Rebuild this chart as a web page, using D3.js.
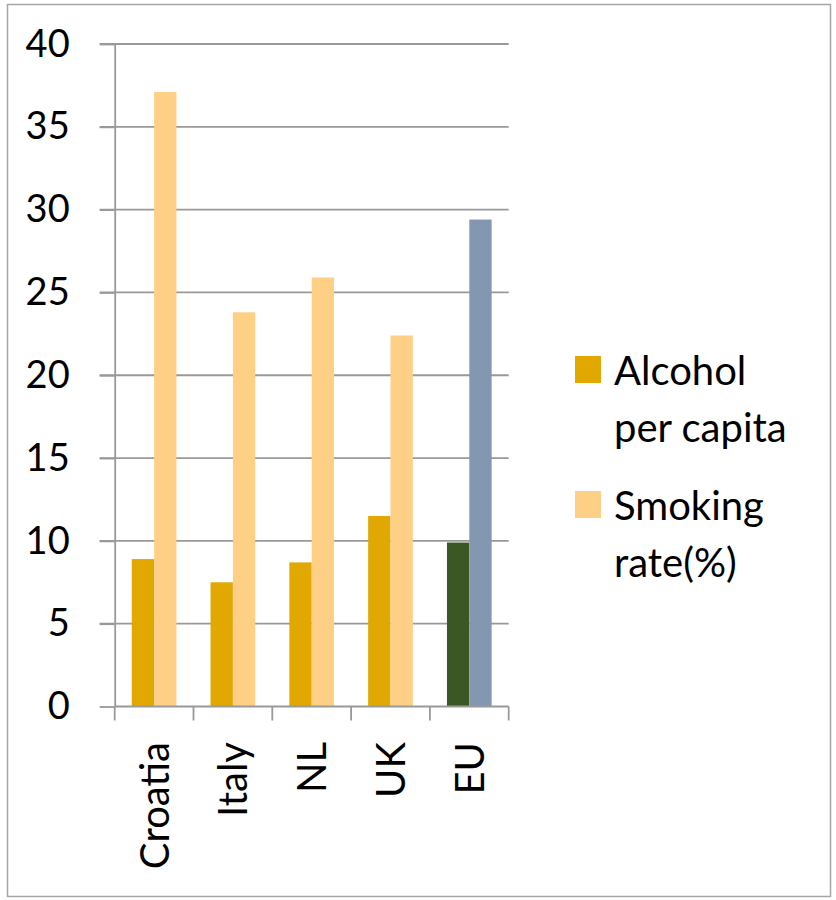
<!DOCTYPE html>
<html>
<head>
<meta charset="utf-8">
<script src="https://cdn.jsdelivr.net/npm/d3@7"></script>
<style>
  body { margin: 0; background: #fff; }
  svg { font-family: Lato, "Open Sans", sans-serif; }
</style>
</head>
<body>
<div id="chart"></div>
<script>
// chart values
const categories = ["Croatia", "Italy", "NL", "UK", "EU"];
const alcohol = [8.9, 7.5, 8.7, 11.5, 9.9];
const smoking = [37.1, 23.8, 25.9, 22.4, 29.4];
const yTicks = [0, 5, 10, 15, 20, 25, 30, 35, 40];
const seriesNames = ["Alcohol per capita", "Smoking rate(%)"];
const legendLines = [["Alcohol", "per capita"], ["Smoking", "rate(%)"]];

const seriesColors = ["#E0A800", "#FDD086"];
// EU bars are drawn in their own colours
const euColors = ["#3A5724", "#8497B0"];

const W = 836, H = 900;
const plotLeft = 114.7, plotRight = 508.7, plotTop = 44, plotBottom = 706.5;

const svg = d3.select("#chart")
  .append("svg")
  .attr("width", W)
  .attr("height", H);

// outer frame
svg.append("rect")
  .attr("x", 7.5).attr("y", 4.5)
  .attr("width", 823).attr("height", 892)
  .attr("fill", "none")
  .attr("stroke", "#a6a6a6")
  .attr("stroke-width", 1.5);

const y = d3.scaleLinear().domain([0, 40]).range([plotBottom, plotTop]);

const x0 = d3.scaleBand()
  .domain(categories)
  .range([plotLeft, plotRight])
  .paddingInner(0.433)
  .paddingOuter(0.433 / 2);

const x1 = d3.scaleBand()
  .domain(seriesNames)
  .range([0, x0.bandwidth()]);

// gridlines
svg.append("g")
  .selectAll("line")
  .data(yTicks.filter(d => d > 0))
  .join("line")
  .attr("x1", plotLeft - 15).attr("x2", plotRight)
  .attr("y1", d => y(d)).attr("y2", d => y(d))
  .attr("stroke", "#999")
  .attr("stroke-width", 1.8);

// y axis
const yAxis = svg.append("g")
  .attr("transform", `translate(${plotLeft},0)`)
  .call(d3.axisLeft(y).tickValues(yTicks).tickSize(15).tickSizeOuter(0).tickPadding(30));
yAxis.select(".domain").attr("stroke", "#999").attr("stroke-width", 1.8);
yAxis.selectAll(".tick line").attr("stroke", "#999").attr("stroke-width", 1.8);
yAxis.selectAll("text")
  .attr("font-size", 38)
  .attr("font-family", "Lato, sans-serif")
  .attr("fill", "#000");

// bars
const groups = svg.append("g")
  .selectAll("g")
  .data(categories)
  .join("g")
  .attr("transform", d => `translate(${x0(d)},0)`);

groups.selectAll("rect")
  .data((c, i) => seriesNames.map((s, j) => ({
    cat: c, series: s, j: j,
    value: j === 0 ? alcohol[i] : smoking[i]
  })))
  .join("rect")
  .attr("x", d => x1(d.series))
  .attr("width", x1.bandwidth())
  .attr("y", d => y(d.value))
  .attr("height", d => y(0) - y(d.value))
  .attr("fill", d => d.cat === "EU" ? euColors[d.j] : seriesColors[d.j]);

// x axis line and boundary ticks
svg.append("line")
  .attr("x1", plotLeft).attr("x2", plotRight)
  .attr("y1", plotBottom).attr("y2", plotBottom)
  .attr("stroke", "#999").attr("stroke-width", 1.8);

svg.append("g")
  .selectAll("line")
  .data(d3.range(categories.length + 1))
  .join("line")
  .attr("x1", i => plotLeft + i * x0.step())
  .attr("x2", i => plotLeft + i * x0.step())
  .attr("y1", plotBottom).attr("y2", plotBottom + 14)
  .attr("stroke", "#999").attr("stroke-width", 1.8);

// category labels, rotated
svg.append("g")
  .selectAll("text")
  .data(categories)
  .join("text")
  .attr("transform", d => `translate(${x0(d) + x0.bandwidth() / 2},742) rotate(-90)`)
  .attr("text-anchor", "end")
  .attr("dy", "0.36em")
  .attr("font-size", 40)
  .attr("fill", "#000")
  .text(d => d);

// legend
const legend = svg.append("g");
legendLines.forEach((lines, i) => {
  const ly = 356 + i * 135;
  legend.append("rect")
    .attr("x", 575).attr("y", ly)
    .attr("width", 26).attr("height", 27)
    .attr("fill", seriesColors[i]);
  const t = legend.append("text")
    .attr("x", 614)
    .attr("y", ly + 29)
    .attr("font-size", 40)
    .attr("fill", "#000");
  lines.forEach((ln, k) => {
    t.append("tspan")
      .attr("x", 614)
      .attr("dy", k === 0 ? 0 : 57)
      .text(ln);
  });
});
</script>
</body>
</html>
